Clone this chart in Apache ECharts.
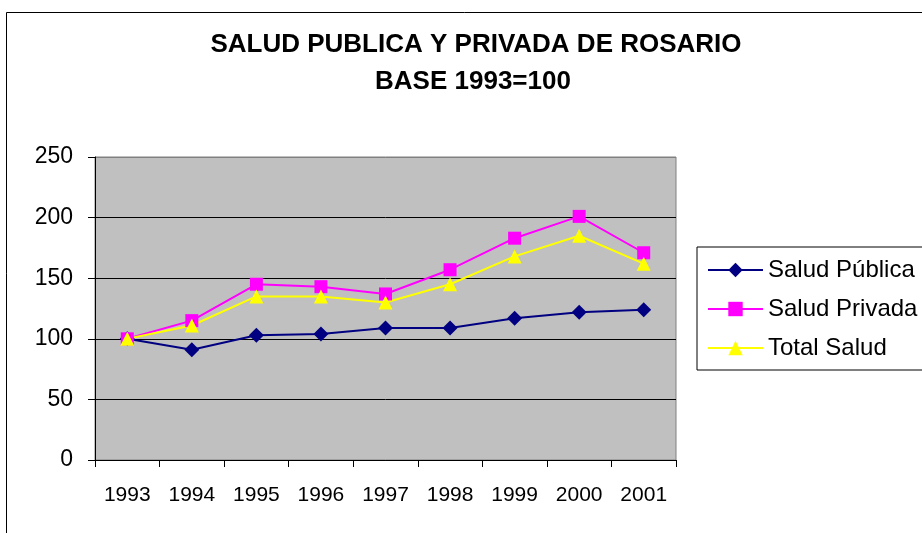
<!DOCTYPE html>
<html lang="es">
<head>
    <meta charset="utf-8"/>
    <title>Salud Publica y Privada de Rosario</title>
    <script src="https://cdn.jsdelivr.net/npm/echarts@6/dist/echarts.min.js"></script>
    <style>
        html, body { margin: 0; padding: 0; background: #fff; }
        #chart { width: 922px; height: 533px; }
    </style>
</head>
<body>
    <div id="chart"></div>
    <script>
        // datos (base 1993 = 100)
        var years = ['1993', '1994', '1995', '1996', '1997', '1998', '1999', '2000', '2001'];
        var saludPublica = [100, 91, 103, 104, 109, 109, 117, 122, 124];
        var saludPrivada = [100, 115, 145, 143, 137, 157, 183, 201, 171];
        var totalSalud = [100, 111, 135, 135, 130, 145, 168, 185, 162];
        var seriesNames = ['Salud Pública', 'Salud Privada', 'Total Salud'];

        var font = 'Liberation Sans, Arial, sans-serif';
        var chart = echarts.init(document.getElementById('chart'), null, {renderer: 'canvas'});

        function lineSeries(name, data, color, symbol, size) {
            return {
                name: name,
                type: 'line',
                data: data,
                symbol: symbol,
                symbolSize: size,
                showAllSymbol: true,
                animation: false,
                lineStyle: {color: color, width: 2},
                itemStyle: {color: color, borderWidth: 0}
            };
        }

        var option = {
            animation: false,
            backgroundColor: '#ffffff',
            graphic: [
                {
                    type: 'rect',
                    shape: {x: 6.5, y: 12.5, width: 1000, height: 1000},
                    style: {fill: 'none', stroke: '#000', lineWidth: 1},
                    z: -1
                },
                {
                    type: 'text',
                    x: 476, y: 45,
                    style: {
                        text: 'SALUD PUBLICA Y PRIVADA DE ROSARIO',
                        font: 'bold 26px ' + font,
                        fill: '#000',
                        textAlign: 'center',
                        textVerticalAlign: 'middle'
                    }
                },
                {
                    type: 'text',
                    x: 473, y: 82,
                    style: {
                        text: 'BASE 1993=100',
                        font: 'bold 26px ' + font,
                        fill: '#000',
                        textAlign: 'center',
                        textVerticalAlign: 'middle'
                    }
                }
            ],
            legend: {
                orient: 'vertical',
                left: 697,
                top: 247,
                padding: [11, 40, 10, 10],
                itemGap: 15,
                itemWidth: 55,
                itemHeight: 18,
                borderColor: '#000',
                borderWidth: 1,
                backgroundColor: '#fff',
                data: seriesNames,
                textStyle: {fontFamily: font, fontSize: 24, color: '#000'}
            },
            grid: {
                left: 95,
                right: 246,
                top: 157,
                bottom: 73,
                show: true,
                backgroundColor: '#c0c0c0',
                borderColor: '#808080',
                borderWidth: 1
            },
            xAxis: {
                type: 'category',
                data: years,
                boundaryGap: true,
                axisLine: {lineStyle: {color: '#000', width: 1}},
                axisTick: {show: true, length: 7, inside: false, lineStyle: {color: '#000'}},
                axisLabel: {color: '#000', fontFamily: font, fontSize: 21, margin: 25, interval: 0},
                splitLine: {show: false}
            },
            yAxis: {
                type: 'value',
                min: 0,
                max: 250,
                interval: 50,
                axisLine: {show: true, lineStyle: {color: '#000', width: 1}},
                axisTick: {show: true, length: 7, lineStyle: {color: '#000'}},
                axisLabel: {color: '#000', fontFamily: font, fontSize: 23, margin: 22},
                splitLine: {
                    show: true,
                    lineStyle: {color: ['#000', '#000', '#000', '#000', '#000', '#808080'], width: 1}
                }
            },
            series: [
                lineSeries(seriesNames[0], saludPublica, '#000080', 'diamond', 15),
                lineSeries(seriesNames[1], saludPrivada, '#ff00ff', 'rect', 13),
                lineSeries(seriesNames[2], totalSalud, '#ffff00', 'triangle', 14)
            ]
        };

        chart.setOption(option);
    </script>
</body>
</html>
